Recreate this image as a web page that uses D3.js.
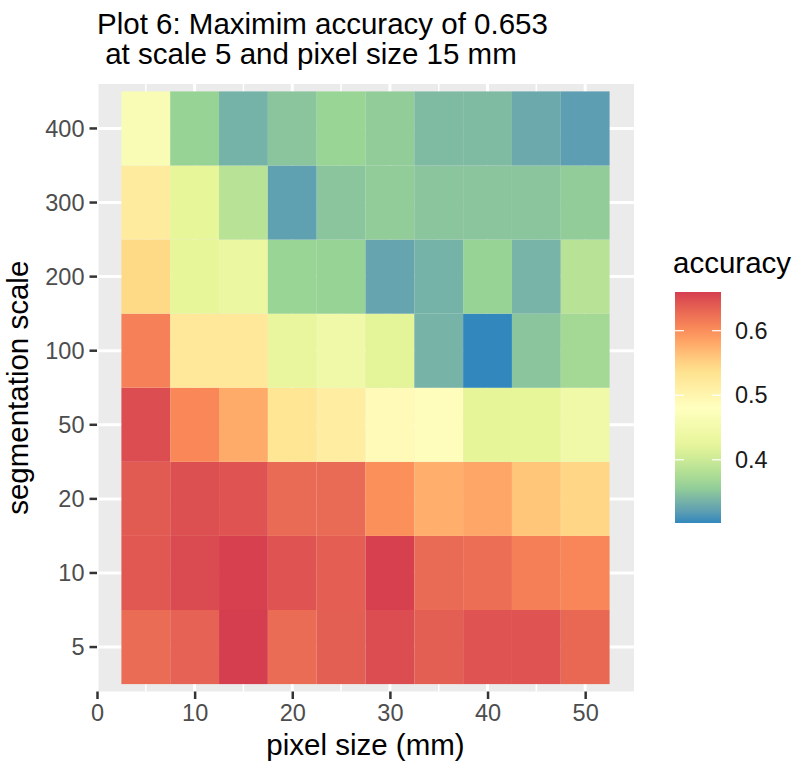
<!DOCTYPE html>
<html>
<head>
<meta charset="utf-8">
<script src="https://cdn.jsdelivr.net/npm/d3@7"></script>
<style>
  body { margin: 0; background: #fff; }
  svg text { font-family: "Liberation Sans", Arial, sans-serif; white-space: pre; }
</style>
</head>
<body>
<div id="chart"></div>
<script>
// pixel sizes (mm) on x, segmentation scales on y (bottom to top)
const pixelSizes = [5, 10, 15, 20, 25, 30, 35, 40, 45, 50];
const scales = ["5", "10", "20", "50", "100", "200", "300", "400"];
const xTicks = [0, 10, 20, 30, 40, 50];
const legendTicks = [0.4, 0.5, 0.6];

// accuracy per scale, one value per pixel size
const acc5   = [0.627, 0.635, 0.660, 0.627, 0.637, 0.650, 0.637, 0.645, 0.645, 0.630];
const acc10  = [0.642, 0.652, 0.659, 0.645, 0.638, 0.659, 0.628, 0.625, 0.612, 0.606];
const acc20  = [0.640, 0.648, 0.645, 0.628, 0.628, 0.598, 0.577, 0.583, 0.560, 0.548];
const acc50  = [0.650, 0.605, 0.580, 0.530, 0.515, 0.490, 0.485, 0.423, 0.425, 0.445];
const acc100 = [0.610, 0.525, 0.525, 0.430, 0.445, 0.420, 0.336, 0.302, 0.350, 0.370];
const acc200 = [0.545, 0.425, 0.435, 0.362, 0.360, 0.325, 0.335, 0.360, 0.337, 0.385];
const acc300 = [0.520, 0.425, 0.385, 0.322, 0.350, 0.355, 0.350, 0.350, 0.350, 0.355];
const acc400 = [0.465, 0.360, 0.335, 0.350, 0.362, 0.355, 0.342, 0.342, 0.328, 0.320];
const accRows = [acc5, acc10, acc20, acc50, acc100, acc200, acc300, acc400];

// brewer Spectral (distiller, 7 classes), low -> high
const spectral = ["#3288BD", "#99D594", "#E6F598", "#FFFFBF", "#FEE08B", "#FC8D59", "#D53E4F"];

const cells = [];
scales.forEach((s, i) => {
    pixelSizes.forEach((p, j) => cells.push({scale: s, px: p, acc: accRows[i][j]}));
});

const width = 795, height = 764;
const panel = {left: 97, right: 634, top: 84, bottom: 691.5};

const svg = d3.select("#chart").append("svg")
    .attr("width", width)
    .attr("height", height);

// scales
const x = d3.scaleLinear().domain([0, 55]).range([panel.left, panel.right]);
const y = d3.scaleBand().domain(scales.slice().reverse())
    .range([panel.top, panel.bottom]).paddingOuter(0.1).paddingInner(0);

const accExtent = d3.extent(cells, d => d.acc);
const stops = spectral.map((c, i) => accExtent[0] + i * (accExtent[1] - accExtent[0]) / (spectral.length - 1));
const color = d3.scaleLinear().domain(stops).range(spectral).interpolate(d3.interpolateLab);

// panel background and grid
svg.append("rect")
    .attr("x", panel.left).attr("y", panel.top)
    .attr("width", panel.right - panel.left).attr("height", panel.bottom - panel.top)
    .attr("fill", "#EBEBEB");

const grid = svg.append("g");
grid.selectAll(".minor").data([5, 15, 25, 35, 45]).enter().append("line")
    .attr("x1", d => x(d)).attr("x2", d => x(d))
    .attr("y1", panel.top).attr("y2", panel.bottom)
    .attr("stroke", "#fff").attr("stroke-width", 1.5);
grid.selectAll(".majx").data(xTicks).enter().append("line")
    .attr("x1", d => x(d)).attr("x2", d => x(d))
    .attr("y1", panel.top).attr("y2", panel.bottom)
    .attr("stroke", "#fff").attr("stroke-width", 3);
grid.selectAll(".majy").data(scales).enter().append("line")
    .attr("x1", panel.left).attr("x2", panel.right)
    .attr("y1", d => y(d) + y.bandwidth() / 2).attr("y2", d => y(d) + y.bandwidth() / 2)
    .attr("stroke", "#fff").attr("stroke-width", 3);

// tiles
svg.append("g").selectAll("rect").data(cells).enter().append("rect")
    .attr("x", d => x(d.px - 2.5))
    .attr("y", d => y(d.scale))
    .attr("width", d => x(d.px + 2.5) - x(d.px - 2.5))
    .attr("height", y.bandwidth())
    .attr("fill", d => color(d.acc));

// axes
const xAxis = svg.append("g")
    .attr("transform", `translate(0, ${panel.bottom})`)
    .call(d3.axisBottom(x).tickValues(xTicks).tickSize(7.5).tickPadding(5));
const yAxis = svg.append("g")
    .attr("transform", `translate(${panel.left}, 0)`)
    .call(d3.axisLeft(y).tickSize(7.5).tickPadding(5));

[xAxis, yAxis].forEach(a => {
    a.select(".domain").remove();
    a.selectAll(".tick line").attr("stroke", "#333").attr("stroke-width", 2.5);
    a.selectAll(".tick text")
        .attr("fill", "#4D4D4D")
        .style("font-size", "23.5px")
        .style("font-family", "'Liberation Sans', Arial, sans-serif");
});
yAxis.selectAll(".tick text").attr("dy", "0.35em");

// axis titles
svg.append("text")
    .attr("x", (panel.left + panel.right) / 2)
    .attr("y", 755)
    .attr("text-anchor", "middle")
    .style("font-size", "29.5px")
    .text("pixel size (mm)");

svg.append("text")
    .attr("transform", `translate(28, ${(panel.top + panel.bottom) / 2}) rotate(-90)`)
    .attr("text-anchor", "middle")
    .style("font-size", "29.5px")
    .text("segmentation scale");

// title
svg.append("text")
    .attr("x", panel.left)
    .attr("y", 33.5)
    .style("font-size", "29.5px")
    .text("Plot 6: Maximim accuracy of 0.653");
svg.append("text")
    .attr("x", panel.left)
    .attr("y", 63.5)
    .style("font-size", "29.5px")
    .text(" at scale 5 and pixel size 15 mm");

// legend colourbar
const bar = {x: 675, y: 292, w: 46, h: 231};
const legY = d3.scaleLinear().domain(accExtent).range([bar.y + bar.h, bar.y]);

const defs = svg.append("defs");
const grad = defs.append("linearGradient")
    .attr("id", "accGrad")
    .attr("x1", "0").attr("y1", "1").attr("x2", "0").attr("y2", "0");
d3.range(0, 1.0001, 0.05).forEach(t => {
    grad.append("stop")
        .attr("offset", t)
        .attr("stop-color", color(accExtent[0] + t * (accExtent[1] - accExtent[0])));
});

svg.append("text")
    .attr("x", 673)
    .attr("y", 273)
    .style("font-size", "29.5px")
    .text("accuracy");

svg.append("rect")
    .attr("x", bar.x).attr("y", bar.y)
    .attr("width", bar.w).attr("height", bar.h)
    .attr("fill", "url(#accGrad)");

const legTicks = svg.append("g");
legendTicks.forEach(v => {
    legTicks.append("line")
        .attr("x1", bar.x).attr("x2", bar.x + 9)
        .attr("y1", legY(v)).attr("y2", legY(v))
        .attr("stroke", "#fff").attr("stroke-width", 1.2);
    legTicks.append("line")
        .attr("x1", bar.x + bar.w - 9).attr("x2", bar.x + bar.w)
        .attr("y1", legY(v)).attr("y2", legY(v))
        .attr("stroke", "#fff").attr("stroke-width", 1.2);
    legTicks.append("text")
        .attr("x", bar.x + bar.w + 14)
        .attr("y", legY(v))
        .attr("dy", "0.35em")
        .style("font-size", "23.5px")
        .attr("fill", "#1a1a1a")
        .text(v.toFixed(1));
});
</script>
</body>
</html>
